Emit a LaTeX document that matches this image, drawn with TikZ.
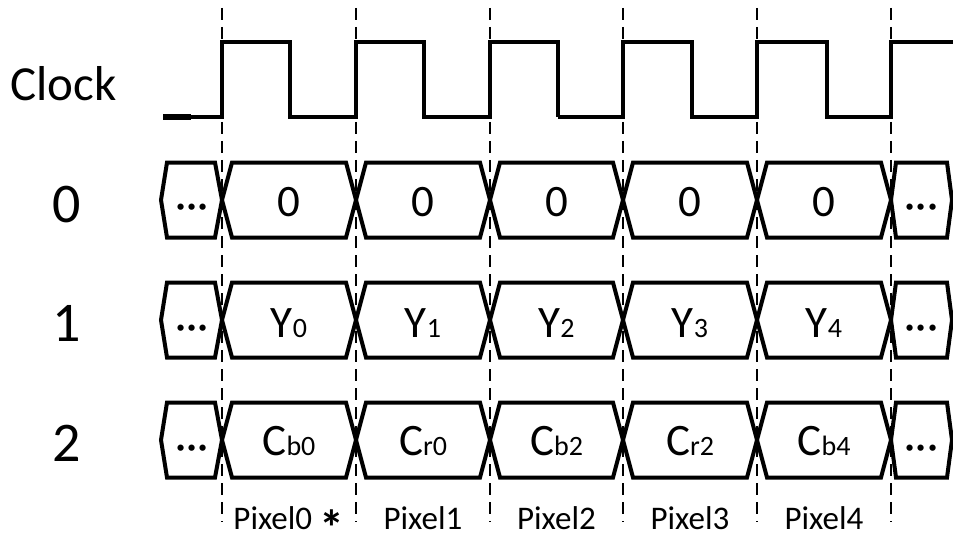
\documentclass[tikz,border=0pt]{standalone}
\usepackage{fontspec}
\setmainfont{Carlito}
\newcommand{\idx}[1]{{\fontsize{14}{16}\selectfont #1}}
\tikzset{
	jel/.style={line width=2pt, line join=miter},
	racs/.style={line width=0.7pt, dash pattern=on 6pt off 3.5pt},
	felirat/.style={font=\fontsize{24.5}{28}\selectfont},
	sorszam/.style={font=\fontsize{28}{32}\selectfont},
	adat/.style={font=\fontsize{22.5}{26}\selectfont},
	pont/.style={font=\fontsize{22}{26}\selectfont, anchor=base},
	pixel/.style={font=\fontsize{16.5}{19}\selectfont, anchor=base, inner sep=0pt}
}
\begin{document}
\begin{tikzpicture}[x=5pt,y=-5pt]
	\useasboundingbox (0,0) rectangle (95.3,53.5);
	% szaggatott vonalak
	\draw[racs] (22.2,0.8) -- (22.2,52.2) (35.6,0.8) -- (35.6,52.2) (49.0,0.8) -- (49.0,52.2);
	\draw[racs] (62.3,0.8) -- (62.3,52.2) (75.7,0.8) -- (75.7,52.2) (89.1,0.8) -- (89.1,52.2);
	% orajel
	\draw[jel] (16.3,11.7) -- (22.2,11.7) -- (22.2,4.2) -- (29.0,4.2) -- (29.0,11.7) -- (35.6,11.7) -- (35.6,4.2) -- (42.4,4.2) -- (42.4,11.7) -- (49.0,11.7) -- (49.0,4.2) -- (55.8,4.2) -- (55.8,11.7);
	\draw[jel] (55.8,11.7) -- (62.3,11.7) -- (62.3,4.2) -- (69.2,4.2) -- (69.2,11.7) -- (75.7,11.7) -- (75.7,4.2) -- (82.7,4.2) -- (82.7,11.7) -- (89.1,11.7) -- (89.1,4.2) -- (95.3,4.2);
	\draw[line width=2.6pt] (16.3,11.7) -- (19.1,11.7);% kezdo darab
	% 0. sor
	\draw[jel] (16.1,20) -- (16.7,16.25) -- (21.5,16.25) -- (22.2,20) -- (21.5,23.75) -- (16.7,23.75) -- cycle;
	\draw[jel] (22.2,20) -- (23.2,16.25) -- (34.6,16.25) -- (35.6,20) -- (34.6,23.75) -- (23.2,23.75) -- cycle;
	\draw[jel] (35.6,20) -- (36.6,16.25) -- (48.0,16.25) -- (49.0,20) -- (48.0,23.75) -- (36.6,23.75) -- cycle;
	\draw[jel] (49.0,20) -- (50.0,16.25) -- (61.3,16.25) -- (62.3,20) -- (61.3,23.75) -- (50.0,23.75) -- cycle;
	\draw[jel] (62.3,20) -- (63.3,16.25) -- (74.7,16.25) -- (75.7,20) -- (74.7,23.75) -- (63.3,23.75) -- cycle;
	\draw[jel] (75.7,20) -- (76.7,16.25) -- (88.1,16.25) -- (89.1,20) -- (88.1,23.75) -- (76.7,23.75) -- cycle;
	\draw[jel] (89.1,20) -- (89.6,16.25) -- (94.7,16.25) -- (95.2,20) -- (94.7,23.75) -- (89.6,23.75) -- cycle;
	% 1. sor
	\draw[jel] (16.1,32) -- (16.7,28.25) -- (21.5,28.25) -- (22.2,32) -- (21.5,35.75) -- (16.7,35.75) -- cycle;
	\draw[jel] (22.2,32) -- (23.2,28.25) -- (34.6,28.25) -- (35.6,32) -- (34.6,35.75) -- (23.2,35.75) -- cycle;
	\draw[jel] (35.6,32) -- (36.6,28.25) -- (48.0,28.25) -- (49.0,32) -- (48.0,35.75) -- (36.6,35.75) -- cycle;
	\draw[jel] (49.0,32) -- (50.0,28.25) -- (61.3,28.25) -- (62.3,32) -- (61.3,35.75) -- (50.0,35.75) -- cycle;
	\draw[jel] (62.3,32) -- (63.3,28.25) -- (74.7,28.25) -- (75.7,32) -- (74.7,35.75) -- (63.3,35.75) -- cycle;
	\draw[jel] (75.7,32) -- (76.7,28.25) -- (88.1,28.25) -- (89.1,32) -- (88.1,35.75) -- (76.7,35.75) -- cycle;
	\draw[jel] (89.1,32) -- (89.6,28.25) -- (94.7,28.25) -- (95.2,32) -- (94.7,35.75) -- (89.6,35.75) -- cycle;
	% 2. sor
	\draw[jel] (16.1,44) -- (16.7,40.25) -- (21.5,40.25) -- (22.2,44) -- (21.5,47.75) -- (16.7,47.75) -- cycle;
	\draw[jel] (22.2,44) -- (23.2,40.25) -- (34.6,40.25) -- (35.6,44) -- (34.6,47.75) -- (23.2,47.75) -- cycle;
	\draw[jel] (35.6,44) -- (36.6,40.25) -- (48.0,40.25) -- (49.0,44) -- (48.0,47.75) -- (36.6,47.75) -- cycle;
	\draw[jel] (49.0,44) -- (50.0,40.25) -- (61.3,40.25) -- (62.3,44) -- (61.3,47.75) -- (50.0,47.75) -- cycle;
	\draw[jel] (62.3,44) -- (63.3,40.25) -- (74.7,40.25) -- (75.7,44) -- (74.7,47.75) -- (63.3,47.75) -- cycle;
	\draw[jel] (75.7,44) -- (76.7,40.25) -- (88.1,40.25) -- (89.1,44) -- (88.1,47.75) -- (76.7,47.75) -- cycle;
	\draw[jel] (89.1,44) -- (89.6,40.25) -- (94.7,40.25) -- (95.2,44) -- (94.7,47.75) -- (89.6,47.75) -- cycle;
	% bal oldali feliratok
	\node[felirat] (clk) at (6.35,8.4) {Clock};
	\node[sorszam] (s0) at (6.7,20.5) {0};
	\node[sorszam] (s1) at (6.7,32.3) {1};
	\node[sorszam] (s2) at (6.7,44.3) {2};
	% adatok
	\node[pont] (a0l) at (19.2,22.0) {···};
	\node[adat] (a00) at (28.9,20.2) {0};
	\node[adat] (a01) at (42.3,20.2) {0};
	\node[adat] (a02) at (55.65,20.2) {0};
	\node[adat] (a03) at (69.0,20.2) {0};
	\node[adat] (a04) at (82.4,20.2) {0};
	\node[pont] (a0r) at (92.15,22.0) {···};
	\node[pont] (a1l) at (19.2,34.0) {···};
	\node[adat] (a10) at (28.9,32.3) {Y\idx{0}};
	\node[adat] (a11) at (42.3,32.3) {Y\idx{1}};
	\node[adat] (a12) at (55.65,32.3) {Y\idx{2}};
	\node[adat] (a13) at (69.0,32.3) {Y\idx{3}};
	\node[adat] (a14) at (82.4,32.3) {Y\idx{4}};
	\node[pont] (a1r) at (92.15,34.0) {···};
	\node[pont] (a2l) at (19.2,46.0) {···};
	\node[adat] (a20) at (28.9,44.1) {C\idx{b0}};
	\node[adat] (a21) at (42.3,44.1) {C\idx{r0}};
	\node[adat] (a22) at (55.65,44.1) {C\idx{b2}};
	\node[adat] (a23) at (69.0,44.1) {C\idx{r2}};
	\node[adat] (a24) at (82.4,44.1) {C\idx{b4}};
	\node[pont] (a2r) at (92.15,46.0) {···};
	% pixelek
	\node[pixel] (p0) at (28.9,52.9) {Pixel0 \raisebox{-8pt}[0pt][0pt]{\fontsize{25}{27}\selectfont\bfseries *}};
	\node[pixel] (p1) at (42.3,52.9) {Pixel1};
	\node[pixel] (p2) at (55.65,52.9) {Pixel2};
	\node[pixel] (p3) at (69.0,52.9) {Pixel3};
	\node[pixel] (p4) at (82.4,52.9) {Pixel4};
\end{tikzpicture}
\end{document}
